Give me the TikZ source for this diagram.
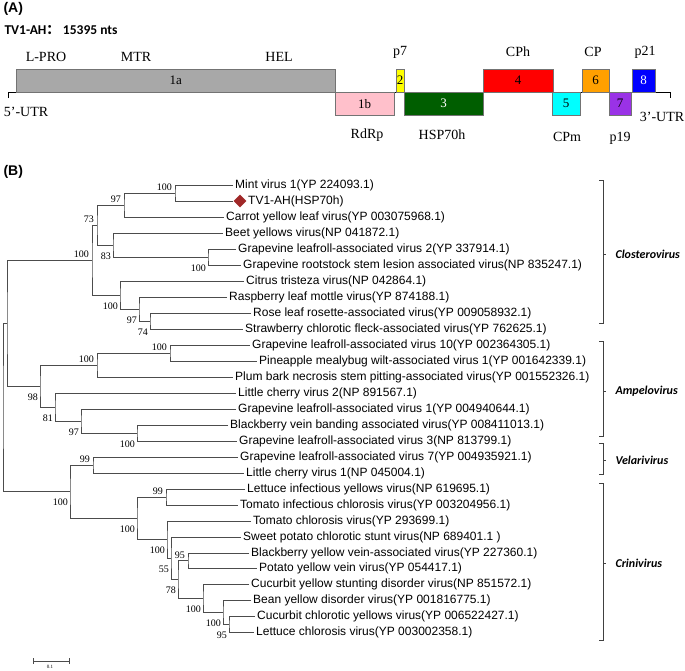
\documentclass[tikz,border=0pt]{standalone}
\usepackage{fontspec}
\setmainfont{Liberation Serif}
\setsansfont{Liberation Sans}
\newfontfamily\calfont{Carlito}
\newfontfamily\cjk{Noto Sans CJK SC}
\usetikzlibrary{shapes.geometric}

\definecolor{orfgray}{HTML}{A8A8A8}
\definecolor{orfpink}{HTML}{FFC0CB}
\definecolor{orfyellow}{HTML}{FFFF00}
\definecolor{orfgreen}{HTML}{005E00}
\definecolor{orfred}{HTML}{FF0000}
\definecolor{orfcyan}{HTML}{00FFFF}
\definecolor{orforange}{HTML}{FFA000}
\definecolor{orfpurple}{HTML}{9A32E6}
\definecolor{orfblue}{HTML}{0000FF}
\definecolor{tvred}{HTML}{A02828}

\begin{document}
\begin{tikzpicture}[
    x=1pt, y=-1pt,
    orf/.style={draw=black!55, minimum height=23pt, inner sep=0pt, font=\fontsize{13}{15}\selectfont},
    orfup/.style={orf, anchor=south west},
    orfdn/.style={orf, anchor=north west},
    gene/.style={font=\fontsize{14}{16}\selectfont},
    branch/.style={draw=black!70, line width=0.9pt},
    leaf/.style={anchor=west, inner xsep=2pt, inner ysep=1pt, font=\sffamily\fontsize{12}{14}\selectfont},
    boot/.style={inner sep=0pt, font=\fontsize{10}{11}\selectfont},
    bootup/.style={boot, anchor=south east, xshift=-3pt, yshift=2pt},
    bootdn/.style={boot, anchor=north east, xshift=-2pt, yshift=-7.5pt},
    genus/.style={anchor=west, font=\calfont\bfseries\itshape\fontsize{12}{14}\selectfont},
    bracket/.style={draw=black!75, line width=0.7pt}
]
\useasboundingbox[fill=white] (0,0) rectangle (685,670);

% (A) GENOME MAP
\begin{scope}
    \node[anchor=west, font=\sffamily\bfseries\fontsize{14}{16}\selectfont] (pa) at (0,9) {(A)};
    \node[anchor=west, font=\calfont\bfseries\fontsize{13.5}{15}\selectfont] (hdr) at (1,30) {TV1-AH{\cjk ：} 15395 nts};

    \coordinate (g5) at (8,92);
    \coordinate (g3) at (670,92);
    \draw[line width=0.8pt] (g5) ++(0,6) -- (g5) -- (g3) -- ++(0,6);

    \node[orfup, fill=orfgray, minimum width=319pt] (o1a) at (16,92) {1a};
    \node[orfdn, fill=orfpink, minimum width=59pt] (o1b) at (335,92) {1b};
    \node[orfup, fill=orfyellow, minimum width=8pt] (o2) at (396,92) {2};
    \node[orfdn, fill=orfgreen, minimum width=79pt, text=white] (o3) at (404,92) {3};
    \node[orfup, fill=orfred, minimum width=70pt] (o4) at (483,92) {4};
    \node[orfdn, fill=orfcyan, minimum width=28pt] (o5) at (552,92) {5};
    \node[orfup, fill=orforange, minimum width=27pt] (o6) at (582,92) {6};
    \node[orfdn, fill=orfpurple, minimum width=22pt] (o7) at (609,92) {7};
    \node[orfup, fill=orfblue, minimum width=23pt, text=white] (o8) at (632,92) {8};

    \node[gene] (lpro) at (46,57) {L-PRO};
    \node[gene] (mtr) at (136,57) {MTR};
    \node[gene] (hel) at (279,57) {HEL};
    \node[gene] (p7) at (400,52) {p7};
    \node[gene] (cph) at (518,52) {CPh};
    \node[gene] (cp) at (593,52) {CP};
    \node[gene] (p21) at (645,52) {p21};
    \node[gene] (utr5) at (26,112) {5'-UTR};
    \node[gene] (rdrp) at (367,135) {RdRp};
    \node[gene] (hsp) at (442,135) {HSP70h};
    \node[gene] (cpm) at (567,137) {CPm};
    \node[gene] (p19) at (620,138) {p19};
    \node[gene] (utr3) at (662,117) {3’-UTR};
\end{scope}

% (B) PHYLOGENETIC TREE
\begin{scope}
    \node[anchor=west, font=\sffamily\bfseries\fontsize{14}{16}\selectfont] (pb) at (0,172) {(B)};

    % leaves
    \node[leaf] (mint) at (233,185) {Mint virus 1(YP 224093.1)};
    \node[diamond, fill=tvred, inner sep=0pt, minimum size=13pt] (tvmark) at (240,201) {};
    \node[leaf] (tvah) at (246,201) {TV1-AH(HSP70h)};
    \node[leaf] (carrot) at (224,217) {Carrot yellow leaf virus(YP 003075968.1)};
    \node[leaf] (beet) at (223,233) {Beet yellows virus(NP 041872.1)};
    \node[leaf] (glrav2) at (236,249) {Grapevine leafroll-associated virus 2(YP 337914.1)};
    \node[leaf] (grslav) at (241,265) {Grapevine rootstock stem lesion associated virus(NP 835247.1)};
    \node[leaf] (citrus) at (244,281) {Citrus tristeza virus(NP 042864.1)};
    \node[leaf] (rasp) at (227,297) {Raspberry leaf mottle virus(YP 874188.1)};
    \node[leaf] (rose) at (251,313) {Rose leaf rosette-associated virus(YP 009058932.1)};
    \node[leaf] (straw) at (243,329) {Strawberry chlorotic fleck-associated virus(YP 762625.1)};
    \node[leaf] (glrav10) at (250,345) {Grapevine leafroll-associated virus 10(YP 002364305.1)};
    \node[leaf] (pine) at (257,361) {Pineapple mealybug wilt-associated virus 1(YP 001642339.1)};
    \node[leaf] (plum) at (233,377) {Plum bark necrosis stem pitting-associated virus(YP 001552326.1)};
    \node[leaf] (lchv2) at (236,393) {Little cherry virus 2(NP 891567.1)};
    \node[leaf] (glrav1) at (236,409) {Grapevine leafroll-associated virus 1(YP 004940644.1)};
    \node[leaf] (bvbav) at (228,425) {Blackberry vein banding associated virus(YP 008411013.1)};
    \node[leaf] (glrav3) at (237,441) {Grapevine leafroll-associated virus 3(NP 813799.1)};
    \node[leaf] (glrav7) at (238,457) {Grapevine leafroll-associated virus 7(YP 004935921.1)};
    \node[leaf] (lchv1) at (244,473) {Little cherry virus 1(NP 045004.1)};
    \node[leaf] (liyv) at (245,489) {Lettuce infectious yellows virus(NP 619695.1)};
    \node[leaf] (ticv) at (238,505) {Tomato infectious chlorosis virus(YP 003204956.1)};
    \node[leaf] (tocv) at (251,521) {Tomato chlorosis virus(YP 293699.1)};
    \node[leaf] (spcsv) at (241,537) {Sweet potato chlorotic stunt virus(NP 689401.1 )};
    \node[leaf] (byvav) at (249,553) {Blackberry yellow vein-associated virus(YP 227360.1)};
    \node[leaf] (pyvv) at (257,568) {Potato yellow vein virus(YP 054417.1)};
    \node[leaf] (cysdv) at (249,584) {Cucurbit yellow stunting disorder virus(NP 851572.1)};
    \node[leaf] (bydv) at (251,600) {Bean yellow disorder virus(YP 001816775.1)};
    \node[leaf] (ccyv) at (255,616) {Cucurbit chlorotic yellows virus(YP 006522427.1)};
    \node[leaf] (lcv) at (254,632) {Lettuce chlorosis virus(YP 003002358.1)};

    % Closterovirus
    \coordinate (cA) at (175,193);
    \coordinate (cB) at (124,205);
    \coordinate (cC) at (208,257);
    \coordinate (cD) at (113,245);
    \coordinate (cE) at (97,225);
    \coordinate (cF) at (150,321);
    \coordinate (cG) at (139,309);
    \coordinate (cH) at (120,295);
    \coordinate (cI) at (92,260);
    \draw[branch] (mint.west) -| (cA) |- (tvmark.west);
    \draw[branch] (cA) -| (cB) |- (carrot.west);
    \draw[branch] (glrav2.west) -| (cC) |- (grslav.west);
    \draw[branch] (beet.west) -| (cD) |- (cC);
    \draw[branch] (cB) -| (cE) |- (cD);
    \draw[branch] (rose.west) -| (cF) |- (straw.west);
    \draw[branch] (rasp.west) -| (cG) |- (cF);
    \draw[branch] (citrus.west) -| (cH) |- (cG);
    \draw[branch] (cE) -| (cI) |- (cH);
    \node[bootup] at (cA) {100};
    \node[bootup] at (cB) {97};
    \node[bootdn] at (cC) {100};
    \node[bootdn] at (cD) {83};
    \node[bootup] at (cE) {73};
    \node[bootdn] at (cF) {74};
    \node[bootdn] at (cG) {97};
    \node[bootdn] at (cH) {100};
    \node[bootup] at (cI) {100};

    % Ampelovirus
    \coordinate (aA) at (170,353);
    \coordinate (aB) at (97,365);
    \coordinate (aC) at (137,433);
    \coordinate (aD) at (81,421);
    \coordinate (aE) at (55,407);
    \coordinate (aF) at (40,386);
    \coordinate (kA) at (7,323);
    \draw[branch] (glrav10.west) -| (aA) |- (pine.west);
    \draw[branch] (aA) -| (aB) |- (plum.west);
    \draw[branch] (bvbav.west) -| (aC) |- (glrav3.west);
    \draw[branch] (glrav1.west) -| (aD) |- (aC);
    \draw[branch] (lchv2.west) -| (aE) |- (aD);
    \draw[branch] (aB) -| (aF) |- (aE);
    \draw[branch] (cI) -| (kA) |- (aF);
    \node[bootup] at (aA) {100};
    \node[bootup] at (aB) {100};
    \node[bootdn] at (aC) {100};
    \node[bootdn] at (aD) {97};
    \node[bootdn] at (aE) {81};
    \node[bootdn] at (aF) {98};

    % Velarivirus and Crinivirus
    \coordinate (vA) at (93,465);
    \coordinate (rA) at (166,497);
    \coordinate (rB) at (229,624);
    \coordinate (rC) at (223,612);
    \coordinate (rD) at (203,598);
    \coordinate (rE) at (188,560.5);
    \coordinate (rF) at (178,579);
    \coordinate (rG) at (171,558);
    \coordinate (rH) at (167,539.5);
    \coordinate (rI) at (137,518);
    \coordinate (vB) at (70,491.5);
    \coordinate (root) at (3,407);
    \draw[branch] (glrav7.west) -| (vA) |- (lchv1.west);
    \draw[branch] (liyv.west) -| (rA) |- (ticv.west);
    \draw[branch] (ccyv.west) -| (rB) |- (lcv.west);
    \draw[branch] (bydv.west) -| (rC) |- (rB);
    \draw[branch] (cysdv.west) -| (rD) |- (rC);
    \draw[branch] (byvav.west) -| (rE) |- (pyvv.west);
    \draw[branch] (rE) -| (rF) |- (rD);
    \draw[branch] (spcsv.west) -| (rG) |- (rF);
    \draw[branch] (tocv.west) -| (rH) |- (rG);
    \draw[branch] (rA) -| (rI) |- (rH);
    \draw[branch] (vA) -| (vB) |- (rI);
    \draw[branch] (kA) -| (root) |- (vB);
    \node[bootup] at (vA) {99};
    \node[bootup] at (rA) {99};
    \node[bootdn] at (rB) {95};
    \node[bootdn] at (rC) {100};
    \node[bootdn] at (rD) {100};
    \node[bootup] at (rE) {95};
    \node[bootdn] at (rF) {78};
    \node[bootdn] at (rG) {55};
    \node[bootdn] at (rH) {100};
    \node[bootdn] at (rI) {100};
    \node[bootdn] at (vB) {100};

    % genus brackets
    \node[genus] (clo) at (612,254) {Closterovirus};
    \node[genus] (amp) at (612,391) {Ampelovirus};
    \node[genus] (vel) at (612,460) {Velarivirus};
    \node[genus] (cri) at (612,563) {Crinivirus};
    \draw[bracket] (599,180) -- (603,180) -- (603,323) -- (599,323) (603,254) -- (606,254);
    \draw[bracket] (599,341) -- (603,341) -- (603,436) -- (599,436) (603,391) -- (606,391);
    \draw[bracket] (599,443) -- (603,443) -- (603,474) -- (599,474) (603,460) -- (606,460);
    \draw[bracket] (599,483) -- (603,483) -- (603,640) -- (599,640) (603,563) -- (606,563);

    % scale bar
    \coordinate (sbl) at (33,661);
    \coordinate (sbr) at (69,661);
    \draw[branch, line width=0.7pt] (sbl) ++(0,-3) -- ++(0,6) (sbl) -- (sbr) ++(0,-3) -- ++(0,6);
    \node[font=\fontsize{5}{6}\selectfont] (sbt) at (50,667) {0.1};
\end{scope}
\end{tikzpicture}
\end{document}
